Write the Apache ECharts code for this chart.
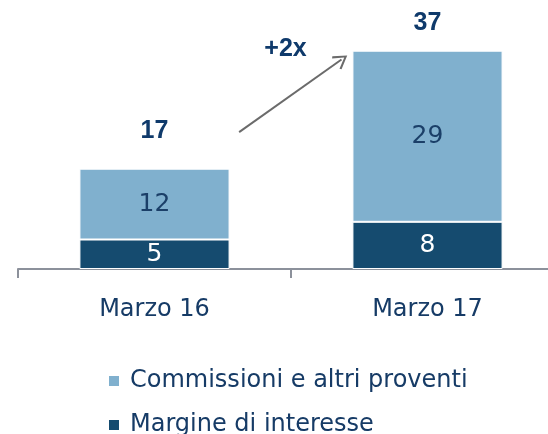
<!DOCTYPE html>
<html>
<head>
<meta charset="utf-8">
<script src="https://cdn.jsdelivr.net/npm/echarts@6/dist/echarts.min.js"></script>
<style>
html,body{margin:0;padding:0;background:#fff;}
#chart{width:548px;height:434px;}
</style>
</head>
<body>
<div id="chart"></div>
<script>
// ---- data ----
var categories = ['Marzo 16', 'Marzo 17'];
var margineInteresse = [5, 8];
var commissioni = [12, 29];
var seriesNames = ['Margine di interesse', 'Commissioni e altri proventi'];
var growthLabel = '+2x';
// arrow annotation, in (category position, value) units
var arrowFrom = [0.31, 23.2];
var arrowTo = [0.685, 35.5];
var growthLabelAt = [0.48, 37.3];

var totals = categories.map(function (c, i) { return margineInteresse[i] + commissioni[i]; });
var totalLabelDistance = [25, 15];

var navy = '#163B66';
var chart = echarts.init(document.getElementById('chart'), null, {renderer: 'canvas'});
var chevron = 'path://M0,0 L7,9 L5.6,10 L0,2.6 L-5.6,10 L-7,9 Z';
var legendText = {fontFamily: 'DejaVu Sans', fontSize: 24, color: navy, padding: [0, 0, 0, 5]};

chart.setOption({
  animation: false,
  grid: {left: 18, right: -16, top: 33, bottom: 165, containLabel: false, outerBoundsMode: 'none'},
  legend: [{
    left: 102, top: 364,
    data: [seriesNames[1]],
    icon: 'rect', itemWidth: 12, itemHeight: 12,
    selectedMode: false, textStyle: legendText
  }, {
    left: 102, top: 408,
    data: [seriesNames[0]],
    icon: 'rect', itemWidth: 12, itemHeight: 12,
    selectedMode: false, textStyle: legendText
  }],
  xAxis: [{
    type: 'category',
    data: categories,
    axisLine: {lineStyle: {color: '#8C919B', width: 2}},
    axisTick: {show: true, length: 9, lineStyle: {color: '#8C919B', width: 2}},
    axisLabel: {margin: 29, fontFamily: 'DejaVu Sans', fontSize: 24, color: navy}
  }, {
    type: 'value', min: -0.5, max: 1.5, show: false
  }],
  yAxis: {type: 'value', min: 0, max: 40, show: false, splitLine: {show: false}},
  series: [{
    name: seriesNames[0],
    type: 'bar',
    stack: 'tot',
    barWidth: '55%',
    data: margineInteresse,
    itemStyle: {color: '#154B6F', borderColor: '#fff', borderWidth: 1},
    label: {show: true, position: 'inside', color: '#fff', fontFamily: 'DejaVu Sans', fontSize: 25}
  }, {
    name: seriesNames[1],
    type: 'bar',
    stack: 'tot',
    barWidth: '55%',
    data: commissioni,
    itemStyle: {color: '#80B0CE', borderColor: '#fff', borderWidth: 1},
    label: {show: true, position: 'inside', color: '#1B3F68', fontFamily: 'DejaVu Sans', fontSize: 25}
  }, {
    name: 'Totale',
    type: 'scatter',
    data: totals.map(function (v, i) { return {value: [categories[i], v], label: {distance: totalLabelDistance[i]}}; }),
    symbolSize: 1,
    itemStyle: {color: 'rgba(0,0,0,0)', opacity: 1},
    label: {show: true, position: 'top', color: '#0F3A6B', opacity: 1, fontFamily: 'Liberation Sans', fontWeight: 'bold', fontSize: 25, formatter: function (p) { return String(p.value[1]); }},
    z: 5
  }, {
    name: 'Freccia',
    type: 'scatter',
    xAxisIndex: 1,
    data: [],
    markLine: {
      silent: true,
      symbol: ['none', chevron],
      symbolSize: [16, 14],
      label: {show: false},
      lineStyle: {color: '#6B6B6B', width: 2, type: 'solid'},
      data: [[{coord: arrowFrom}, {coord: arrowTo}]]
    },
    markPoint: {
      symbolSize: 0,
      label: {show: true, formatter: growthLabel, position: 'inside', color: '#0F3A6B', fontFamily: 'Liberation Sans', fontWeight: 'bold', fontSize: 25},
      data: [{coord: growthLabelAt}]
    }
  }]
});
</script>
</body>
</html>
